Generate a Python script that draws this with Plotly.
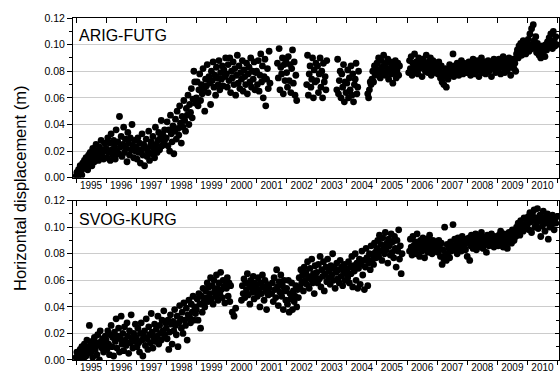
import plotly.graph_objects as go

# ---------------- data (displacement in mm, ~10-day samples, 36 per year) ----------------
years = list(range(1995, 2011))
samples_per_year = 36
N = None

arig_mm = [
    [1, 4, 0, 6, 3, 9, 5, 2, 11, 7, 13, 8, 15, 10, 6, 17, 12, 19, 14, 9, 22, 16, 12, 20, 25, 15, 18, 13, 23, 19, 28, 17, 21, 14, 26, 20],
    [22, 15, 30, 19, 26, 13, 33, 21, 17, 28, 24, 14, 36, 20, 27, 18, 46, 23, 31, 16, 25, 38, 19, 29, 22, 12, 34, 26, 17, 30, 21, 40, 24, 15, 28, 20],
    [23, 14, 30, 19, 26, 11, 21, 33, 17, 25, 9, 22, 29, 16, 20, 35, 13, 24, 27, 18, 31, 22, 15, 38, 25, 19, 28, 34, 21, 30, 43, 24, 32, 26, 36, 29],
    [30, 42, 24, 36, 20, 47, 33, 27, 39, 18, 35, 44, 29, 50, 37, 32, 54, 41, 26, 46, 38, 58, 43, 35, 52, 47, 62, 40, 55, 49, 67, 45, 59, 80, 72, 56],
    [60, 72, 54, 66, 78, 58, 70, 63, 82, 67, 50, 74, 69, 85, 64, 76, 71, 55, 80, 73, 87, 68, 77, 62, 83, 75, 70, 88, 66, 79, 74, 84, 69, 81, 76, 90],
    [78, 68, 85, 73, 90, 64, 80, 75, 87, 70, 82, 62, 77, 92, 71, 84, 67, 79, 74, 88, 65, 81, 76, 70, 86, 63, 78, 83, 72, 90, 68, 80, 74, 87, 66, 79],
    [80, 70, 88, 65, 77, 93, 72, 84, 60, 76, 89, 54, 74, 82, 67, 95, 71, N, N, N, N, N, N, N, N, 86, 75, 97, 66, 83, 78, 90, 63, 85, 73, 88],
    [79, 68, 91, 73, 85, 64, 82, 96, 71, 87, 62, 77, 58, N, N, N, N, N, N, N, N, N, N, N, 70, 92, 62, 78, 84, 68, 74, 90, 60, 81, 72, 86],
    [73, 84, 64, 78, 90, 68, 80, 60, 86, 72, 76, 66, 88, N, N, N, N, N, N, N, N, N, N, N, 66, 89, 63, 73, 80, 60, 78, 68, 85, 57, 72, 64],
    [71, 81, 60, 75, 66, 84, 62, 78, 57, 70, 74, 86, 63, 68, 80, N, N, N, N, N, N, N, N, N, N, 63, 60, 66, 72, 70, 74, 80, 72, 84, 77, 82],
    [86, 78, 90, 81, 75, 88, 83, 79, 92, 84, 77, 86, 80, 89, 74, 82, 87, 78, 85, 71, 83, 79, 88, 75, 81, 86, 77, 84, N, N, N, N, N, N, N, N],
    [N, N, 79, 88, 82, 91, 77, 86, 83, 93, 80, 87, 85, 78, 90, 82, 88, 84, 76, 89, 83, 86, 80, 92, 85, 79, 87, 82, 90, 77, 85, 88, 81, 84, 79, 86],
    [83, 78, 87, 80, 75, 84, 72, 79, 70, 76, 82, 68, 77, 74, 81, 85, 78, 83, 80, 93, 76, 84, 81, 79, 86, 82, 77, 85, 80, 88, 83, 78, 86, 81, 84, 79],
    [84, 79, 87, 82, 77, 86, 81, 89, 83, 78, 85, 80, 88, 84, 76, 86, 82, 90, 79, 85, 83, 87, 78, 84, 81, 88, 80, 86, 83, 76, 85, 82, 89, 84, 79, 87],
    [85, 80, 89, 83, 78, 87, 84, 91, 82, 79, 86, 88, 81, 85, 90, 83, 77, 87, 84, 89, 82, 86, 80, 93, 96, 90, 99, 94, 101, 92, 97, 103, 95, 99, 93, 100],
    [98, 104, 95, 108, 100, 112, 97, 115, 103, 99, 106, 94, 101, 96, 92, 98, 90, 95, 99, 93, 97, 91, 100, 96, 102, 98, 105, 99, 108, 101, 97, 110, 103, 99, 106, 100],
]

svog_mm = [
    [2, 6, 0, 4, 1, 8, 3, 10, 5, 1, 12, 7, 3, 15, 9, 5, 26, 11, 6, 14, 2, 10, 17, 8, 13, 4, 19, 11, 0, 22, 14, 9, 16, 6, 12, 18],
    [15, 8, 22, 12, 4, 19, 26, 10, 17, 3, 21, 14, 31, 9, 18, 24, 6, 16, 33, 12, 20, 7, 25, 15, 11, 28, 18, 5, 22, 13, 34, 16, 9, 20, 14, 27],
    [17, 10, 24, 13, 6, 20, 28, 15, 3, 18, 22, 11, 31, 16, 8, 25, 19, 13, 35, 21, 9, 17, 27, 14, 23, 18, 33, 12, 26, 20, 15, 30, 22, 37, 19, 28],
    [24, 16, 30, 8, 21, 34, 27, 12, 29, 22, 38, 26, 19, 33, 10, 28, 41, 31, 24, 36, 20, 43, 30, 26, 39, 15, 34, 45, 32, 28, 42, 36, 48, 30, 40, 35],
    [38, 46, 30, 50, 42, 24, 48, 36, 54, 44, 40, 52, 47, 58, 44, 55, 50, 62, 46, 56, 42, 60, 52, 48, 64, 54, 45, 58, 50, 66, 53, 47, 60, 55, 43, 57],
    [54, 62, 48, 58, 44, 56, N, 36, N, 33, N, 39, N, N, N, N, N, N, 45, 56, 50, 61, 47, 58, 53, 65, 49, 57, 42, 60, 55, 51, 63, 46, 58, 52],
    [56, 48, 62, 53, 40, 58, 50, 64, 55, 45, 60, 52, 38, 57, 49, 54, N, N, 50, 58, 44, 62, 53, 47, 68, 55, 41, 59, 51, 64, 48, 56, 38, 60, 52, 45],
    [54, 42, 60, 36, 50, 46, 58, 38, 52, 44, 48, 56, 40, 53, 47, 62, 55, 68, 58, 64, 52, 70, 60, 66, 57, 74, 63, 54, 69, 61, 76, 58, 65, 50, 71, 62],
    [66, 58, 72, 61, 78, 55, 68, 63, 74, 52, 65, 70, 59, 76, 62, 67, 57, 71, 64, 80, 60, 69, 54, 66, 73, 61, 68, 58, 75, 63, 70, 56, 67, 72, 60, 65],
    [68, 62, 74, 58, 70, 65, 78, 55, 71, 67, 80, 60, 73, 54, 69, 76, 57, 72, 82, 64, 75, 53, 70, 84, 77, 56, 73, 80, 68, 86, 75, 79, 72, 88, 81, 77],
    [84, 90, 78, 94, 82, 87, 75, 92, 85, 80, 96, 83, 88, 73, 91, 86, 79, 95, 81, 89, 77, 93, 84, 70, 90, 82, 98, 76, 86, 65, 80, N, N, N, N, N],
    [N, N, N, 82, 91, 85, 79, 93, 86, 83, 89, 80, 95, 84, 88, 78, 90, 86, 82, 92, 85, 77, 89, 84, 91, 81, 87, 94, 83, 88, 80, 90, 85, 82, 89, 86],
    [86, 81, 90, 84, 78, 88, 72, 83, 76, 100, 80, 75, 87, 79, 84, 77, 89, 82, 86, 102, 85, 91, 83, 88, 80, 92, 86, 84, 90, 82, 93, 87, 85, 91, 83, 89],
    [78, 88, 92, 75, 86, 94, 89, 84, 91, 87, 95, 83, 90, 86, 93, 88, 85, 96, 89, 84, 92, 87, 90, 81, 94, 88, 86, 92, 89, 95, 87, 91, 85, 93, 90, 88],
    [91, 86, 94, 89, 97, 88, 92, 85, 95, 90, 87, 93, 84, 91, 96, 89, 94, 88, 98, 92, 90, 95, 93, 100, 96, 103, 98, 94, 105, 99, 101, 97, 107, 102, 99, 104],
    [102, 108, 98, 111, 104, 96, 110, 106, 113, 100, 107, 103, 114, 99, 105, 109, 93, 106, 101, 112, 104, 97, 108, 103, 110, 91, 105, 100, 107, 102, 109, 104, 98, 106, 103, 108],
]

year_labels = [str(y) for y in years]
y_ticks = [0.00, 0.02, 0.04, 0.06, 0.08, 0.10, 0.12]
panel_names = ["ARIG-FUTG", "SVOG-KURG"]


def to_series(rows):
    t, v = [], []
    for y, row in zip(years, rows):
        for i, val in enumerate(row):
            if val is None:
                continue
            t.append(y + i / samples_per_year)
            v.append(val / 1000.0)
    return t, v


t_a, v_a = to_series(arig_mm)
t_s, v_s = to_series(svog_mm)

fig = go.Figure()
mk = dict(color="black", size=6.8, line=dict(width=0))
fig.add_trace(go.Scatter(x=t_a, y=v_a, mode="markers", marker=mk, xaxis="x", yaxis="y", showlegend=False, hoverinfo="skip"))
fig.add_trace(go.Scatter(x=t_s, y=v_s, mode="markers", marker=mk, xaxis="x2", yaxis="y2", showlegend=False, hoverinfo="skip"))
# helper empty traces so that mirrored tick axes are drawn
for xa, ya in [("x3", "y"), ("x4", "y2"), ("x", "y3"), ("x2", "y4")]:
    fig.add_trace(go.Scatter(x=[None], y=[None], mode="markers", xaxis=xa, yaxis=ya, showlegend=False, hoverinfo="skip"))

XR = [1994.9, 2011.05]
YR = [0, 0.12]
font_fam = "Liberation Sans, Arial, sans-serif"

def xbottom(anchor):
    return dict(
        range=XR, anchor=anchor, domain=[0, 1], automargin=False,
        tickmode="array", tickvals=[y + 0.5 for y in years], ticktext=year_labels,
        ticks="", showgrid=False, zeroline=False, ticklabelstandoff=-2,
        showline=True, linecolor="black", linewidth=1,
        tickfont=dict(size=10, color="black", family=font_fam),
        minor=dict(tickmode="linear", tick0=1995, dtick=1, ticks="outside", ticklen=4, tickcolor="black", showgrid=False),
    )

def xtop(overlay, anchor):
    return dict(
        range=XR, overlaying=overlay, anchor=anchor, side="top", automargin=False,
        tickmode="linear", tick0=1995, dtick=1, ticks="inside", ticklen=5, tickcolor="black",
        showticklabels=False, showgrid=False, zeroline=False,
        showline=True, linecolor="black", linewidth=1,
    )

def yleft(domain, anchor):
    return dict(
        range=YR, domain=domain, anchor=anchor, automargin=False,
        tickmode="array", tickvals=y_ticks, tickformat=".2f",
        ticks="outside", ticklen=5, tickcolor="black",
        showgrid=True, gridcolor="#cccccc", gridwidth=1, zeroline=False,
        showline=True, linecolor="black", linewidth=1,
        tickfont=dict(size=10.5, color="black", family=font_fam),
        minor=dict(tickmode="linear", tick0=0, dtick=0.01, ticks="outside", ticklen=3, tickcolor="black", showgrid=False),
    )

def yright(overlay, anchor):
    return dict(
        range=YR, overlaying=overlay, anchor=anchor, side="right", automargin=False,
        tickmode="linear", tick0=0, dtick=0.02, ticks="inside", ticklen=4, tickcolor="black",
        showticklabels=False, showgrid=False, zeroline=False,
        showline=True, linecolor="black", linewidth=1,
        minor=dict(tickmode="linear", tick0=0, dtick=0.01, ticks="inside", ticklen=3, tickcolor="black", showgrid=False),
    )

top_dom = [0.533, 1.0]
bot_dom = [0.0, 0.466]

fig.update_layout(
    width=560, height=374,
    margin=dict(l=73, r=1, t=18, b=14),
    paper_bgcolor="white", plot_bgcolor="white",
    font=dict(family=font_fam, color="black"),
    xaxis=xbottom("y"),
    xaxis2=xbottom("y2"),
    xaxis3=xtop("x", "y"),
    xaxis4=xtop("x2", "y2"),
    yaxis=yleft(top_dom, "x"),
    yaxis2=yleft(bot_dom, "x2"),
    yaxis3=yright("y", "x"),
    yaxis4=yright("y2", "x2"),
    annotations=[
        dict(text=panel_names[0], xref="x domain", yref="y domain", x=0.008, y=0.955,
             xanchor="left", yanchor="top", showarrow=False, font=dict(size=16, color="black", family=font_fam)),
        dict(text=panel_names[1], xref="x2 domain", yref="y2 domain", x=0.008, y=0.95,
             xanchor="left", yanchor="top", showarrow=False, font=dict(size=16, color="black", family=font_fam)),
        dict(text="Horizontal displacement (m)", xref="paper", yref="paper", x=-0.109, y=0.5,
             xanchor="center", yanchor="middle", textangle=-90, showarrow=False,
             font=dict(size=16.5, color="black", family=font_fam)),
    ],
)

fig.write_html(
    "out.html",
    config={"displayModeBar": False},
    post_script="document.body.style.margin='0';document.body.style.overflow='hidden';",
)
